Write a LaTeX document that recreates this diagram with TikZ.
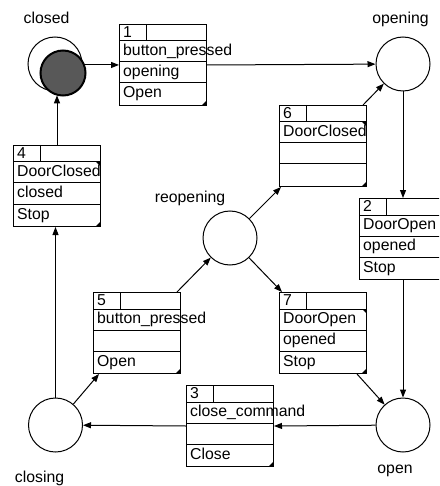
\documentclass[tikz,border=0pt]{standalone}
\usepackage{fontspec}
\setmainfont{Liberation Sans}
\usetikzlibrary{arrows.meta,calc}
\definecolor{markfill}{RGB}{88,88,88}
\tikzset{
  stnode/.style={circle,draw,line width=1pt,minimum size=54pt,inner sep=0pt,fill=white},
  initmark/.style={circle,draw,line width=2pt,fill=markfill,minimum size=45pt,inner sep=0pt},
  tbox/.style={rectangle,draw,line width=1pt,fill=white,minimum width=87pt,minimum height=81pt,inner sep=0pt,anchor=north west},
  rowtxt/.style={anchor=base west,inner sep=0pt,font=\fontsize{15.8}{18}\selectfont},
  lbl/.style={anchor=base,inner sep=0pt,font=\fontsize{15.8}{18}\selectfont},
  flow/.style={line width=1pt,-{Triangle[length=8pt,width=6pt]}},
  divider/.style={line width=1pt},
}
% transition box: name, left, top, number, event, target, action
\newcommand{\transbox}[7]{%
  \node[tbox] (#1) at (#2,#3) {};
  \draw[divider] (#2,#3+17) -- (#2+87,#3+17)
                 (#2,#3+38) -- (#2+87,#3+38)
                 (#2,#3+59) -- (#2+87,#3+59)
                 (#2+27,#3) -- (#2+27,#3+17);
  \fill (#2+87,#3+81) -- (#2+83,#3+81) -- (#2+87,#3+77) -- cycle;
  \node[rowtxt] at (#2+4,#3+13.5) {#4};
  \node[rowtxt] at (#2+4,#3+31.5) {#5};
  \node[rowtxt] at (#2+4,#3+52.5) {#6};
  \node[rowtxt] at (#2+4,#3+74) {#7};
}
% small corner mark on the event row of signal transitions
\newcommand{\sigmark}[2]{%
  \fill (#1+87,#2+17) -- (#1+83,#2+17) -- (#1+87,#2+21) -- cycle;
}
\begin{document}
\begin{tikzpicture}[x=1pt,y=-1pt]
  \useasboundingbox (0,0) rectangle (439,486);
  \clip (0,0) rectangle (439,486);

  % states
  \node[stnode] (closed) at (55,64) {};
  \node[initmark] (cmark) at (63,73) {};
  \node[stnode] (opening) at (403,64) {};
  \node[stnode] (reopen) at (230,238) {};
  \node[stnode] (open) at (403,425) {};
  \node[stnode] (closing) at (55.5,425) {};

  % state names
  \node[lbl] (lclosed) at (46.5,23.5) {closed};
  \node[lbl] (lopening) at (400.5,24) {opening};
  \node[lbl] (lreopen) at (190,202) {reopening};
  \node[lbl] (lopen) at (395,473) {open};
  \node[lbl] (lclosing) at (39.5,482) {closing};

  % transitions
  \transbox{b1}{119}{24}{1}{button\_pressed}{opening}{Open}
  \transbox{b2}{359}{198}{2}{DoorOpen}{opened}{Stop}
  \sigmark{359}{198}
  \transbox{b3}{186}{385}{3}{close\_command}{}{Close}
  \transbox{b4}{13}{145}{4}{DoorClosed}{closed}{Stop}
  \sigmark{13}{145}
  \transbox{b5}{93}{292}{5}{button\_pressed}{}{Open}
  \transbox{b6}{279}{105}{6}{DoorClosed}{}{}
  \sigmark{279}{105}
  \transbox{b7}{279}{292}{7}{DoorOpen}{opened}{Stop}
  \sigmark{279}{292}

  % connectors
  \draw[flow] (cmark.20) -- (cmark.20 -| b1.west);
  \draw[flow] (b1.east) -- (opening);
  \draw[flow] (opening) -- (opening |- b2.north);
  \draw[flow] (open |- b2.south) -- (open);
  \draw[flow] (open) -- (b3.east);
  \draw[flow] (b3.west) -- (closing);
  \draw[flow] (closing) -- (closing |- b4.south);
  \draw[flow] (b4.north) -- (b4.north |- cmark.252);
  \draw[flow] (closing) -- ([xshift=6pt]b5.south west);
  \draw[flow] ([xshift=-4pt]b5.north east) -- (reopen);
  \draw[flow] (reopen) -- ([xshift=2pt]b6.south west);
  \draw[flow] (reopen) -- ([xshift=3pt]b7.north west);
  \draw[flow] ([xshift=-4pt]b6.north east) -- (opening);
  \draw[flow] ([xshift=-10pt]b7.south east) -- (open);
\end{tikzpicture}
\end{document}
